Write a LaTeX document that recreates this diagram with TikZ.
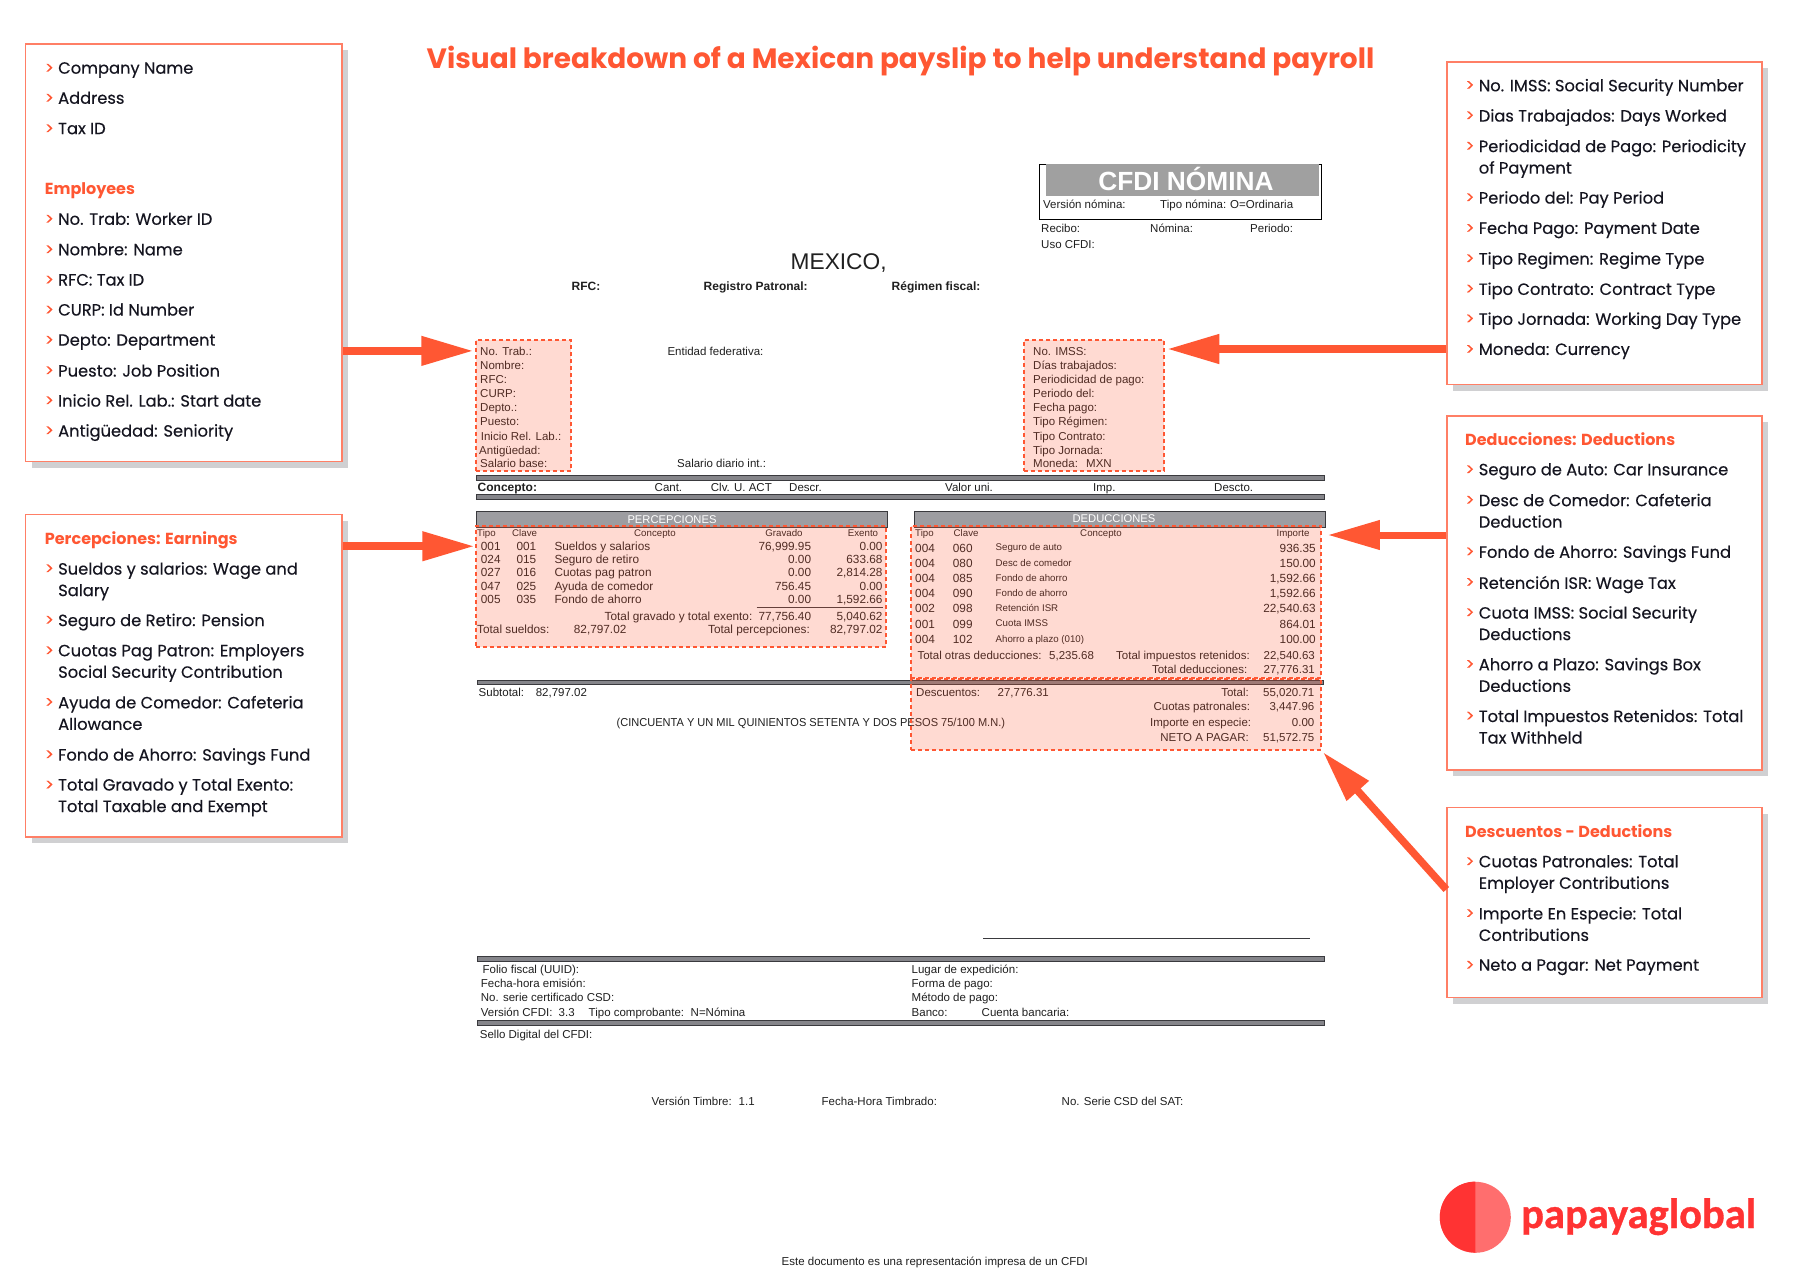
\documentclass[tikz,border=0pt]{standalone}
\usepackage{fontspec}
\usepackage{xcolor}
\usetikzlibrary{positioning,fit,shadows,arrows.meta}
\setmainfont{Liberation Sans}
\newfontfamily\panelfam{Poppins}[FakeBold=0.3]
\newfontfamily\titlefam{Poppins}
\newfontfamily\logofam{Carlito}[BoldFeatures={FakeBold=0.8}]
\definecolor{papaya}{HTML}{FF5733}
\definecolor{panelline}{HTML}{FF7F66}
\definecolor{panelshade}{HTML}{D0D0D2}
\definecolor{panelink}{HTML}{151520}
\definecolor{docink}{HTML}{202020}
\definecolor{barfill}{HTML}{85858A}
\definecolor{barline}{HTML}{3A3A3E}
\definecolor{headfill}{HTML}{9D9DA1}
\definecolor{cfdigray}{HTML}{A0A0A0}
\definecolor{logodark}{HTML}{FF3333}
\definecolor{logolight}{HTML}{FF6E6E}
\tikzset{
    panel/.style={draw=panelline, line width=1.3pt, fill=white, inner sep=0pt,
        drop shadow={shadow xshift=6pt, shadow yshift=-6pt, fill=panelshade, opacity=1}},
    item/.style={anchor=north west, inner sep=0pt, align=left, yshift=6pt, text=panelink,
        font=\panelfam\fontsize{16.3}{21.5}\selectfont},
    itemmark/.style={anchor=north west, inner sep=0pt, text=papaya,
        font=\panelfam\fontsize{16.3}{21.5}\selectfont},
    itemhead/.style={anchor=north west, inner sep=0pt, yshift=6pt, text=papaya,
        font=\titlefam\bfseries\fontsize{16}{21.5}\selectfont},
    bigarrow/.style={draw=papaya, line width=7.5pt, -{Triangle[length=52pt,width=28pt]}},
    docl/.style={anchor=base west, inner sep=0pt, yshift=-4pt, text=docink, font=\fontsize{11.5}{13}\selectfont},
    docr/.style={anchor=base east, inner sep=0pt, yshift=-4pt, text=docink, font=\fontsize{11.5}{13}\selectfont},
    docc/.style={anchor=base, inner sep=0pt, yshift=-3.5pt, text=docink, font=\fontsize{9.7}{12}\selectfont},
    docb/.style={docl, font=\bfseries\fontsize{12}{13}\selectfont},
    numl/.style={docl, font=\fontsize{11.8}{13}\selectfont},
    numr/.style={docr, font=\fontsize{11.8}{13}\selectfont},
    small/.style={docl, font=\fontsize{9.7}{12}\selectfont},
    bar/.style={draw=barline, fill=barfill, line width=1pt, inner sep=0pt},
    headbar/.style={draw=barline, fill=headfill, line width=1pt, inner sep=0pt},
    headtext/.style={anchor=center, inner sep=0pt, text=white, font=\fontsize{11.2}{13}\selectfont},
    hilite/.style={draw=papaya, line width=1.5pt, dash pattern=on 4pt off 3pt, fill=papaya, fill opacity=0.22, inner sep=0pt}
}
% one list line of a panel: mark plus text
\newcommand{\boxitem}[4]{
    \node[item] (#1) at (#2,#3) {\rule{0pt}{12pt}#4};
    \node[itemmark, left=0pt of #1.north west, anchor=north east, xshift=-4pt] (#1m) {\rule{0pt}{12pt}>};
}
\begin{document}
\begin{tikzpicture}[x=1pt,y=-1pt]
    \useasboundingbox (0,0) rectangle (1800,1279);
    \fill[white] (0,0) rectangle (1800,1279);

    \node[anchor=center, inner sep=0pt, text=papaya, font=\titlefam\bfseries\fontsize{27.95}{32}\selectfont] (title) at (900.5,61)
        {Visual breakdown of a Mexican payslip to help understand payroll};

    % Header of the slip
    \node[draw=black, line width=1pt, fit={(1039,165)(1321,219)}, inner sep=0pt] (cfdibox) {};
    \node[fill=cfdigray, fit={(1046,164)(1319,196)}, inner sep=0pt] (cfdifill) {};
    \node[anchor=center, inner sep=0pt, text=white, font=\bfseries\fontsize{26.3}{30}\selectfont] (cfdi) at (1186,178.5) {CFDI NÓMINA};
    \node[docl] (vnom) at (1043,204.7) {Versión nómina:};
    \node[docl] (tnom) at (1160,204.7) {Tipo nómina:};
    \node[docl] (tnomv) at (1230,204.7) {O=Ordinaria};
    \node[docl] (recibo) at (1041,229) {Recibo:};
    \node[docl] (nomina) at (1150,229) {Nómina:};
    \node[docl] (periodo) at (1250,229) {Periodo:};
    \node[docl] (uso) at (1041,244) {Uso CFDI:};
    \node[docl, font=\fontsize{22.7}{26}\selectfont] (mexico) at (790.5,265) {MEXICO,};
    \node[docb] (rfchead) at (571.5,286) {RFC:};
    \node[docb] (registro) at (703.5,286) {Registro Patronal:};
    \node[docb] (regimen) at (891.5,286) {Régimen fiscal:};

    % Worker block
    \node[docl] (trab) at (480,351) {No. Trab.:};
    \node[docl] (nombre) at (480,365.3) {Nombre:};
    \node[docl] (rfc) at (480,379.3) {RFC:};
    \node[docl] (curp) at (480,393.3) {CURP:};
    \node[docl] (depto) at (480,407.7) {Depto.:};
    \node[docl] (puesto) at (480,421.7) {Puesto:};
    \node[docl] (inicio) at (480.7,436.7) {Inicio Rel. Lab.:};
    \node[docl] (antig) at (479,450) {Antigüedad:};
    \node[docl] (salbase) at (480,463.7) {Salario base:};
    \node[docl] (entidad) at (667.3,351) {Entidad federativa:};
    \node[docl] (saldiario) at (677,463.7) {Salario diario int.:};
    \node[docl] (imss) at (1033,351) {No. IMSS:};
    \node[docl] (dias) at (1033,365.3) {Días trabajados:};
    \node[docl] (perpago) at (1033,379.3) {Periodicidad de pago:};
    \node[docl] (perdel) at (1033,393.3) {Periodo del:};
    \node[docl] (fecha) at (1033,407.7) {Fecha pago:};
    \node[docl] (tregimen) at (1033,421.7) {Tipo Régimen:};
    \node[docl] (tcontrato) at (1033,436.7) {Tipo Contrato:};
    \node[docl] (tjornada) at (1033,450) {Tipo Jornada:};
    \node[docl] (moneda) at (1033,463.7) {Moneda:};
    \node[docl] (mxn) at (1086,463.7) {MXN};

    % Concept bars
    \node[bar, fit={(476,475)(1324,480)}] (bara) {};
    \node[bar, fit={(476,494.5)(1324,499.5)}] (barb) {};
    \node[docb] (concepto) at (477.5,487) {Concepto:};
    \node[docl] (cant) at (654.5,487) {Cant.};
    \node[docl] (clv) at (710.7,487) {Clv. U. ACT};
    \node[docl] (descr) at (789,487) {Descr.};
    \node[docl] (valor) at (945,487) {Valor uni.};
    \node[docl] (imp) at (1093,487) {Imp.};
    \node[docl] (descto) at (1214,487) {Descto.};

    % Percepciones
    \node[headbar, fit={(476,511.5)(887,527)}] (perhead) {};
    \node[headtext] (pertext) at (672,519.5) {PERCEPCIONES};
    \node[small] (ptipo) at (477,532.7) {Tipo};
    \node[small] (pclave) at (512,532.7) {Clave};
    \node[docc] (pconc) at (655,532.7) {Concepto};
    \node[docc] (pgrav) at (784,532.7) {Gravado};
    \node[docc] (pexen) at (863,532.7) {Exento};
    \node[numl] (pa1) at (480.7,546.3) {001};
    \node[numl] (pa2) at (516.3,546.3) {001};
    \node[numl] (pa3) at (554.3,546.3) {Sueldos y salarios};
    \node[numr] (pa4) at (811.3,546.3) {76,999.95};
    \node[numr] (pa5) at (882.7,546.3) {0.00};
    \node[numl] (pb1) at (480.7,559.7) {024};
    \node[numl] (pb2) at (516.3,559.7) {015};
    \node[numl] (pb3) at (554.3,559.7) {Seguro de retiro};
    \node[numr] (pb4) at (811.3,559.7) {0.00};
    \node[numr] (pb5) at (882.7,559.7) {633.68};
    \node[numl] (pc1) at (480.7,572.7) {027};
    \node[numl] (pc2) at (516.3,572.7) {016};
    \node[numl] (pc3) at (554.3,572.7) {Cuotas pag patron};
    \node[numr] (pc4) at (811.3,572.7) {0.00};
    \node[numr] (pc5) at (882.7,572.7) {2,814.28};
    \node[numl] (pd1) at (480.7,586) {047};
    \node[numl] (pd2) at (516.3,586) {025};
    \node[numl] (pd3) at (554.3,586) {Ayuda de comedor};
    \node[numr] (pd4) at (811.3,586) {756.45};
    \node[numr] (pd5) at (882.7,586) {0.00};
    \node[numl] (pe1) at (480.7,599.3) {005};
    \node[numl] (pe2) at (516.3,599.3) {035};
    \node[numl] (pe3) at (554.3,599.3) {Fondo de ahorro};
    \node[numr] (pe4) at (811.3,599.3) {0.00};
    \node[numr] (pe5) at (882.7,599.3) {1,592.66};
    \coordinate (rulea) at (756.5,607.5);
    \coordinate (ruleb) at (882.7,607.5);
    \draw[barline, line width=1pt] (rulea) -- (ruleb);
    \node[numr] (ptg) at (752.5,616) {Total gravado y total exento:};
    \node[numr] (ptg1) at (811.3,616) {77,756.40};
    \node[numr] (ptg2) at (882.7,616) {5,040.62};
    \node[numl] (pts) at (477,629) {Total sueldos:};
    \node[numl] (pts1) at (573.7,629) {82,797.02};
    \node[numr] (ptp) at (810,629) {Total percepciones:};
    \node[numr] (ptp1) at (882.7,629) {82,797.02};

    % Deducciones
    \node[headbar, fit={(914,511.5)(1325,527)}] (dedhead) {};
    \node[headtext] (dedtext) at (1114,519) {DEDUCCIONES};
    \node[small] (dtipo) at (915,532.7) {Tipo};
    \node[small] (dclave) at (953.5,532.7) {Clave};
    \node[docc] (dconc) at (1101,532.7) {Concepto};
    \node[docc] (dimpo) at (1293,532.7) {Importe};
    \node[numl] (da1) at (915,548.5) {004};
    \node[numl] (da2) at (952.7,548.5) {060};
    \node[small] (da3) at (995.5,546.7) {Seguro de auto};
    \node[numr] (da4) at (1316,548.5) {936.35};
    \node[numl] (db1) at (915,563.5) {004};
    \node[numl] (db2) at (952.7,563.5) {080};
    \node[small] (db3) at (995.5,562) {Desc de comedor};
    \node[numr] (db4) at (1316,563.5) {150.00};
    \node[numl] (dc1) at (915,578.7) {004};
    \node[numl] (dc2) at (952.7,578.7) {085};
    \node[small] (dc3) at (995.5,577) {Fondo de ahorro};
    \node[numr] (dc4) at (1316,578.7) {1,592.66};
    \node[numl] (dd1) at (915,593.7) {004};
    \node[numl] (dd2) at (952.7,593.7) {090};
    \node[small] (dd3) at (995.5,592) {Fondo de ahorro};
    \node[numr] (dd4) at (1316,593.7) {1,592.66};
    \node[numl] (de1) at (915,608.7) {002};
    \node[numl] (de2) at (952.7,608.7) {098};
    \node[small] (de3) at (995.5,607.5) {Retención ISR};
    \node[numr] (de4) at (1316,608.7) {22,540.63};
    \node[numl] (df1) at (915,624) {001};
    \node[numl] (df2) at (952.7,624) {099};
    \node[small] (df3) at (995.5,622.5) {Cuota IMSS};
    \node[numr] (df4) at (1316,624) {864.01};
    \node[numl] (dg1) at (915,639.3) {004};
    \node[numl] (dg2) at (952.7,639.3) {102};
    \node[small] (dg3) at (995.5,638) {Ahorro a plazo (010)};
    \node[numr] (dg4) at (1316,639.3) {100.00};
    \node[docl] (dto) at (917.3,655.7) {Total otras deducciones:};
    \node[docl] (dto1) at (1049,655.7) {5,235.68};
    \node[docr] (dti) at (1250,655.7) {Total impuestos retenidos:};
    \node[docr] (dti1) at (1315,655.7) {22,540.63};
    \node[docr] (dtd) at (1247.5,669.7) {Total deducciones:};
    \node[docr] (dtd1) at (1315,669.7) {27,776.31};

    % Totals
    \node[bar, fit={(477,680)(1323,684.5)}] (barc) {};
    \node[docl] (subtot) at (478.5,692.5) {Subtotal:};
    \node[docl] (subtot1) at (535.6,692.5) {82,797.02};
    \node[docl] (desc) at (916,692) {Descuentos:};
    \node[docl] (desc1) at (997.5,692) {27,776.31};
    \node[docr] (tot) at (1249,692) {Total:};
    \node[docr] (tot1) at (1314.5,692) {55,020.71};
    \node[docr] (cuo) at (1250.3,706.5) {Cuotas patronales:};
    \node[docr] (cuo1) at (1314.5,706.5) {3,447.96};
    \node[docl] (letra) at (616.5,722) {\scalebox{0.96}[1]{(CINCUENTA Y UN MIL QUINIENTOS SETENTA Y DOS PESOS 75/100 M.N.)}};
    \node[docr] (esp) at (1251.3,722) {Importe en especie:};
    \node[docr] (esp1) at (1314.5,722) {0.00};
    \node[docr] (neto) at (1249,737.5) {NETO A PAGAR:};
    \node[docr] (neto1) at (1314.5,737.5) {51,572.75};

    % Footer of the slip
    \coordinate (firmaa) at (983,938.5);
    \coordinate (firmab) at (1310,938.5);
    \draw[barline, line width=1pt] (firmaa) -- (firmab);
    \node[bar, fit={(477,956.5)(1324,961)}] (bard) {};
    \node[docl] (folio) at (482.5,969.5) {Folio fiscal (UUID):};
    \node[docl] (lugar) at (911.5,969.5) {Lugar de expedición:};
    \node[docl] (fhora) at (480.7,983) {Fecha-hora emisión:};
    \node[docl] (forma) at (911.5,983) {Forma de pago:};
    \node[docl] (serie) at (480.7,997) {No. serie certificado CSD:};
    \node[docl] (metodo) at (911.5,997) {Método de pago:};
    \node[docl] (vcfdi) at (480.7,1012) {Versión CFDI:};
    \node[docl] (vcfdi1) at (558.5,1012) {3.3};
    \node[docl] (tcomp) at (588.5,1012) {Tipo comprobante:};
    \node[docl] (tcomp1) at (690.5,1012) {N=Nómina};
    \node[docl] (banco) at (911.5,1012) {Banco:};
    \node[docl] (cuenta) at (981.5,1012) {Cuenta bancaria:};
    \node[bar, fit={(477,1020.5)(1324,1025)}] (bare) {};
    \node[docl] (sello) at (479.7,1034) {Sello Digital del CFDI:};
    \node[docl] (vtim) at (651.5,1101) {Versión Timbre:};
    \node[docl] (vtim1) at (738.5,1101) {1.1};
    \node[docl] (ftim) at (821.5,1101) {Fecha-Hora Timbrado:};
    \node[docl] (nsat) at (1061.5,1101) {No. Serie CSD del SAT:};
    \node[docl] (este) at (781.5,1261) {Este documento es una representación impresa de un CFDI};

    % Highlights over the slip
    \node[hilite, fit={(476,340)(571,471)}] (trabbox) {};
    \node[hilite, fit={(1024,340)(1164,471)}] (imssbox) {};
    \node[hilite, fit={(476,526)(886,647)}] (perbox) {};
    \node[hilite, fit={(911,526)(1321,678)}] (dedbox) {};
    \node[hilite, fit={(911,679)(1321,750)}] (netobox) {};

    % Panels
    \node[panel, fit={(25.5,44)(342,461.5)}] (empbox) {};
    \boxitem{ia}{58}{67.5}{Company Name}
    \boxitem{ib}{58}{97.5}{Address}
    \boxitem{ic}{58}{128}{Tax ID}
    \node[itemhead] (ih) at (44.7,188.5) {\rule{0pt}{12pt}Employees};
    \boxitem{id}{58}{218.5}{No. Trab: Worker ID}
    \boxitem{ie}{58}{249}{Nombre: Name}
    \boxitem{if}{58}{279.3}{RFC: Tax ID}
    \boxitem{ig}{58}{309.3}{CURP: Id Number}
    \boxitem{ii}{58}{339.5}{Depto: Department}
    \boxitem{ij}{58}{370}{Puesto: Job Position}
    \boxitem{ik}{58}{400}{Inicio Rel. Lab.: Start date}
    \boxitem{il}{58}{430}{Antigüedad: Seniority}

    \node[panel, fit={(25.5,514.5)(342,837)}] (earnbox) {};
    \node[itemhead] (eh) at (44.7,537.5) {\rule{0pt}{12pt}Percepciones: Earnings};
    \boxitem{ea}{58}{568}{Sueldos y salarios: Wage and\\Salary}
    \boxitem{eb}{58}{619.5}{Seguro de Retiro: Pension}
    \boxitem{ec}{58}{650}{Cuotas Pag Patron: Employers\\Social Security Contribution}
    \boxitem{ed}{58}{701.7}{Ayuda de Comedor: Cafeteria\\Allowance}
    \boxitem{ee}{58}{754}{Fondo de Ahorro: Savings Fund}
    \boxitem{ef}{58}{784.3}{Total Gravado y Total Exento:\\Total Taxable and Exempt}

    \node[panel, fit={(1447,62)(1762,384.5)}] (workbox) {};
    \boxitem{wa}{1478.6}{84.7}{No. IMSS: Social Security Number}
    \boxitem{wb}{1478.6}{115}{Dias Trabajados: Days Worked}
    \boxitem{wc}{1478.6}{145.5}{Periodicidad de Pago: Periodicity\\of Payment}
    \boxitem{wd}{1478.6}{197}{Periodo del: Pay Period}
    \boxitem{we}{1478.6}{227.6}{Fecha Pago: Payment Date}
    \boxitem{wf}{1478.6}{258}{Tipo Regimen: Regime Type}
    \boxitem{wg}{1478.6}{288.3}{Tipo Contrato: Contract Type}
    \boxitem{wh}{1478.6}{318.2}{Tipo Jornada: Working Day Type}
    \boxitem{wi}{1478.6}{348.7}{Moneda: Currency}

    \node[panel, fit={(1447,416)(1762,770)}] (dedpanel) {};
    \node[itemhead] (dh) at (1465,438.8) {\rule{0pt}{12pt}Deducciones: Deductions};
    \boxitem{da}{1478.6}{469}{Seguro de Auto: Car Insurance}
    \boxitem{db}{1478.6}{499.5}{Desc de Comedor: Cafeteria\\Deduction}
    \boxitem{dc}{1478.6}{551.2}{Fondo de Ahorro: Savings Fund}
    \boxitem{dd}{1478.6}{581.7}{Retención ISR: Wage Tax}
    \boxitem{de}{1478.6}{612}{Cuota IMSS: Social Security\\Deductions}
    \boxitem{df}{1478.6}{663.7}{Ahorro a Plazo: Savings Box\\Deductions}
    \boxitem{dg}{1478.6}{715.4}{Total Impuestos Retenidos: Total\\Tax Withheld}

    \node[panel, fit={(1447,807.5)(1762,997.5)}] (descpanel) {};
    \node[itemhead] (xh) at (1465,830.8) {\rule{0pt}{12pt}Descuentos - Deductions};
    \boxitem{xa}{1478.6}{861}{Cuotas Patronales: Total\\Employer Contributions}
    \boxitem{xb}{1478.6}{912.8}{Importe En Especie: Total\\Contributions}
    \boxitem{xc}{1478.6}{964.5}{Neto a Pagar: Net Payment}

    % Arrows
    \coordinate (imsstip) at (1164,349);
    \coordinate (dedtip) at (1321,535);
    \draw[bigarrow, shorten >=2pt] (empbox.east |- trab) -- (trabbox.west |- trab);
    \draw[bigarrow, shorten >=1pt] (earnbox.east |- pa1) -- (perbox.west |- pa1);
    \draw[bigarrow, shorten >=2.5pt] (workbox.west |- imsstip) -- (imssbox.east |- imsstip);
    \draw[bigarrow, line width=7pt, shorten >=6pt] (dedpanel.west |- dedtip) -- (dedbox.east |- dedtip);
    \draw[bigarrow, shorten >=2pt] ([yshift=13pt]descpanel.west) -- (netobox.south east);

    % Logo
    \node[circle, fill=logolight, minimum size=71pt, inner sep=0pt] (logo) at (1475.3,1217.3) {};
    \fill[logodark] (logo.north) arc[start angle=90, delta angle=180, radius=35.5pt] -- cycle;
    \node[anchor=base west, inner sep=0pt, text=logodark, font=\logofam\bfseries\fontsize{42.5}{50}\selectfont] (logotext) at (1521,1228) {papayaglobal};
\end{tikzpicture}
\end{document}
